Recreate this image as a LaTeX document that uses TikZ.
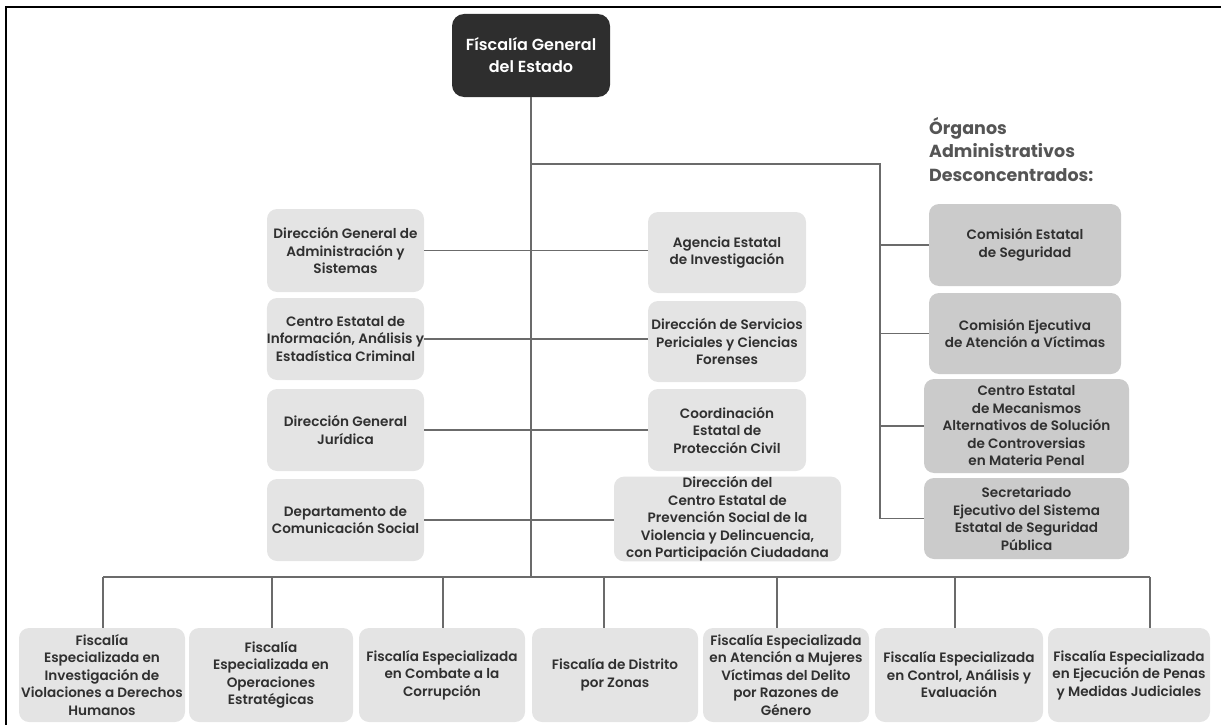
\documentclass[tikz,border=0pt]{standalone}
\usepackage{fontspec}
\IfFontExistsTF{Poppins SemiBold}
  {\setmainfont{Poppins}[BoldFont={Poppins SemiBold}]}
  {\setmainfont{Poppins}}
\newfontfamily\heavyfont{Poppins}
\usetikzlibrary{positioning}
\definecolor{topbox}{HTML}{2E2E2E}
\definecolor{lightbox}{HTML}{E4E4E4}
\definecolor{midbox}{HTML}{CBCBCB}
\definecolor{darktext}{HTML}{303030}
\definecolor{titlegray}{HTML}{555555}
\definecolor{linegray}{HTML}{6B6B6B}
\tikzset{
  unit/.style={fill=lightbox,rounded corners=10pt,align=center,text=darktext,
    font=\fontsize{13.6}{17.5}\selectfont\bfseries,inner sep=0pt},
  organ/.style={unit,fill=midbox},
  link/.style={draw=linegray,line width=1.4pt}
}
\begin{document}
\begin{tikzpicture}[x=1pt,y=-1pt]
        \useasboundingbox (0,0) rectangle (1221,725);
        % marco
        \draw[line width=2pt] (6,725) -- (6,7) -- (1221,7);
        % titular
        \node[fill=topbox,rounded corners=12pt,text=white,align=center,inner sep=0pt,
          minimum width=158,minimum height=83,font=\fontsize{16}{22}\selectfont\bfseries]
          (fge) at (531,55.5) {Físcalía General\\del Estado};
        % columna izquierda
        \node[unit,minimum width=157,minimum height=83] (dgas) at (345.5,250.5) {Dirección General de\\Administración y\\Sistemas};
        \node[unit,minimum width=157,minimum height=82] (ceiaec) at (345.5,339) {Centro Estatal de\\Información, Análisis y\\Estadística Criminal};
        \node[unit,minimum width=157,minimum height=82] (dgj) at (345.5,430) {Dirección General\\Jurídica};
        \node[unit,minimum width=157,minimum height=82] (dcs) at (345.5,520) {Departamento de\\Comunicación Social};
        % columna central
        \node[unit,minimum width=158,minimum height=81] (aei) at (727,252.5) {Agencia Estatal\\de Investigación};
        \node[unit,minimum width=158,minimum height=81] (dspcf) at (727,341.5) {Dirección de Servicios\\Periciales y Ciencias\\Forenses};
        \node[unit,minimum width=158,minimum height=82] (cepc) at (727,430) {Coordinación\\Estatal de\\Protección Civil};
        \node[unit,minimum width=227,minimum height=84] (dcepsvd) at (727.5,519) {Dirección del\\Centro Estatal de\\Prevención Social de la\\Violencia y Delincuencia,\\con Participación Ciudadana};
        % organos desconcentrados
        \node[anchor=north west,align=left,inner sep=0pt,text=titlegray,
          font=\fontsize{17.5}{23.5}\selectfont\heavyfont\bfseries] (oad) at (929,117) {Órganos\\Administrativos\\Desconcentrados:};
        \node[organ,minimum width=192,minimum height=82] (ces) at (1025,245) {Comisión Estatal\\de Seguridad};
        \node[organ,minimum width=192,minimum height=81] (ceav) at (1025,333.5) {Comisión Ejecutiva\\de Atención a Víctimas};
        \node[organ,minimum width=205,minimum height=94] (cemasc) at (1026.5,426) {Centro Estatal\\de Mecanismos\\Alternativos de Solución\\de Controversias\\en Materia Penal};
        \node[organ,minimum width=205,minimum height=81] (sesesp) at (1026.5,518.5) {Secretariado\\Ejecutivo del Sistema\\Estatal de Seguridad\\Pública};
        % fiscalias
        \node[unit,minimum width=166,minimum height=94] (feidh) at (102,675) {Fiscalía\\Especializada en\\Investigación de\\Violaciones a Derechos\\Humanos};
        \node[unit,minimum width=164,minimum height=94] (feoe) at (271,675) {Fiscalía\\Especializada en\\Operaciones\\Estratégicas};
        \node[unit,minimum width=166,minimum height=94] (fecc) at (442,675) {Fiscalía Especializada\\en Combate a la\\Corrupción};
        \node[unit,minimum width=166,minimum height=94] (fdz) at (615,675) {Fiscalía de Distrito\\por Zonas};
        \node[unit,minimum width=166,minimum height=94] (feam) at (786,675) {Fiscalía Especializada\\en Atención a Mujeres\\Víctimas del Delito\\por Razones de\\Género};
        \node[unit,minimum width=168,minimum height=94] (fecae) at (959,675) {Fiscalía Especializada\\en Control, Análisis y\\Evaluación};
        \node[unit,minimum width=162,minimum height=94] (feepm) at (1129,675) {Fiscalía Especializada\\en Ejecución de Penas\\y Medidas Judiciales};
        % lineas
        \coordinate (ramal) at (531,164);
        \coordinate (ramalfin) at (880,164);
        \coordinate (bus) at (531,577);
        \draw[link] (fge.south) -- (bus);
        \draw[link] (ramal) -- (ramalfin) -- (ramalfin |- sesesp.west);
        \foreach \n in {ces,ceav,cemasc,sesesp}
          \draw[link] (ramalfin |- \n.west) -- (\n.west);
        \foreach \a/\b in {dgas/aei,ceiaec/dspcf,dgj/cepc,dcs/dcepsvd}
          \draw[link] (\a.east) -- (\a.east -| \b.west);
        \draw[link] (103,577) coordinate (bini) -- (1150,577) coordinate (bfin);
        \foreach \n/\x in {feidh/103,feoe/272,fecc/443,fdz/604,feam/777,fecae/955,feepm/1150} {
          \coordinate (s\n) at (\x,577);
          \draw[link] (s\n) -- (s\n |- \n.north);
        }
\end{tikzpicture}
\end{document}
